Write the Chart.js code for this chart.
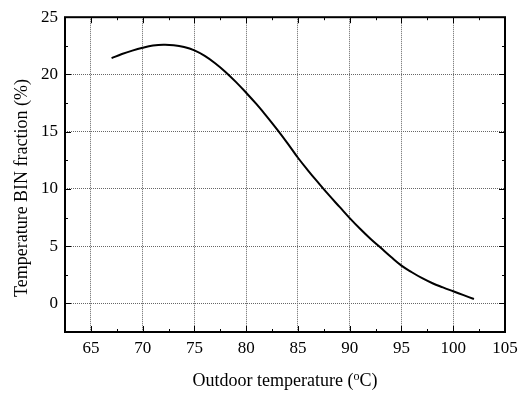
<!DOCTYPE html>
<html>
<head>
<meta charset="utf-8">
<script src="https://cdn.jsdelivr.net/npm/chart.js@4/dist/chart.umd.min.js"></script>
<style>
html, body { margin: 0; padding: 0; background: #fff; }
</style>
</head>
<body>
<canvas id="binChart" width="526" height="393"></canvas>
<script>
// outdoor temperature (C) and BIN fraction (%)
var temps = [67, 68, 69, 70, 71, 72, 73, 74, 75, 76, 77, 78, 79, 80, 81, 82, 83, 84, 85,
             86, 87, 88, 89, 90, 91, 92, 93, 94, 95, 96, 97, 98, 99, 100, 101, 102];
var binFraction = [21.42, 21.78, 22.08, 22.33, 22.52, 22.6, 22.56, 22.4, 22.1, 21.62, 20.98, 20.22, 19.35, 18.4, 17.4, 16.32, 15.18, 13.98, 12.72,
                   11.58, 10.5, 9.45, 8.45, 7.45, 6.52, 5.65, 4.85, 4.05, 3.3, 2.72, 2.2, 1.76, 1.4, 1.06, 0.72, 0.38];

var xTicks = [65, 70, 75, 80, 85, 90, 95, 100, 105];
var xMinor = [62.5, 67.5, 72.5, 77.5, 82.5, 87.5, 92.5, 97.5, 102.5];
var yTicks = [0, 5, 10, 15, 20, 25];
var yMinor = [-2.5, 2.5, 7.5, 12.5, 17.5, 22.5];

var xTitle = ['Outdoor temperature (', 'o', 'C)'];
var yTitle = 'Temperature BIN fraction (%)';

var fontFamily = '"Liberation Serif", "Times New Roman", serif';

var points = [];
for (var i = 0; i < temps.length; i++) {
    points.push({ x: temps[i], y: binFraction[i] });
}

// box frame + inward ticks on all four sides, plus the axis titles
var frameTicks = {
    id: 'frameTicks',
    afterDraw: function (chart) {
        var ctx = chart.ctx;
        var a = chart.chartArea;
        var xs = chart.scales.x, ys = chart.scales.y;
        ctx.save();
        ctx.strokeStyle = '#000';
        ctx.lineWidth = 1;
        ctx.beginPath();
        var tick = function (list, len) {
            list.forEach(function (v) {
                var px = Math.round(xs.getPixelForValue(v)) + 0.5;
                if (px < a.left - 0.5 || px > a.right + 0.5) return;
                ctx.moveTo(px, a.bottom); ctx.lineTo(px, a.bottom - len);
                ctx.moveTo(px, a.top); ctx.lineTo(px, a.top + len);
            });
        };
        var ytick = function (list, len) {
            list.forEach(function (v) {
                var py = Math.round(ys.getPixelForValue(v)) + 0.5;
                if (py < a.top - 0.5 || py > a.bottom + 0.5) return;
                ctx.moveTo(a.left, py); ctx.lineTo(a.left + len, py);
                ctx.moveTo(a.right, py); ctx.lineTo(a.right - len, py);
            });
        };
        tick(xTicks, 6);
        tick(xMinor, 3);
        ytick(yTicks, 6);
        ytick(yMinor, 3);
        ctx.stroke();
        ctx.lineWidth = 2;
        ctx.strokeRect(a.left, a.top, a.right - a.left, a.bottom - a.top);

        // x title with superscript o
        ctx.fillStyle = '#000';
        ctx.textBaseline = 'alphabetic';
        ctx.textAlign = 'left';
        var big = '18px ' + fontFamily, small = '12px ' + fontFamily;
        ctx.font = big;
        var w0 = ctx.measureText(xTitle[0]).width;
        var w2 = ctx.measureText(xTitle[2]).width;
        ctx.font = small;
        var w1 = ctx.measureText(xTitle[1]).width;
        var total = w0 + w1 + w2;
        var x0 = (a.left + a.right) / 2 - total / 2, base = 386;
        ctx.font = big;
        ctx.fillText(xTitle[0], x0, base);
        ctx.font = small;
        ctx.fillText(xTitle[1], x0 + w0, base - 6);
        ctx.font = big;
        ctx.fillText(xTitle[2], x0 + w0 + w1, base);

        // y title, rotated
        ctx.translate(22, 188);
        ctx.rotate(-Math.PI / 2);
        ctx.textAlign = 'center';
        ctx.textBaseline = 'middle';
        ctx.font = '18px ' + fontFamily;
        ctx.fillText(yTitle, 0, 0);
        ctx.restore();
    }
};

var binChart = new Chart(document.getElementById('binChart'), {
    type: 'line',
    data: {
        datasets: [{
            data: points,
            borderColor: '#000',
            borderWidth: 2,
            pointRadius: 0,
            tension: 0.4,
            fill: false
        }]
    },
    options: {
        responsive: false,
        animation: false,
        layout: { padding: { top: 13, right: 21, left: 0, bottom: 0 } },
        plugins: {
            legend: { display: false },
            tooltip: { enabled: false }
        },
        scales: {
            x: {
                type: 'linear',
                min: 62.5,
                max: 105,
                afterBuildTicks: function (scale) {
                    scale.ticks = xTicks.map(function (v) { return { value: v }; });
                },
                afterFit: function (scale) { scale.height = 61; },
                border: { display: false, dash: [1, 1] },
                grid: { drawTicks: false, color: '#666', lineWidth: 1 },
                ticks: { padding: 6, color: '#000', font: { family: fontFamily, size: 17 } }
            },
            y: {
                type: 'linear',
                min: -2.5,
                max: 25,
                afterBuildTicks: function (scale) {
                    scale.ticks = yTicks.map(function (v) { return { value: v }; });
                },
                afterFit: function (scale) { scale.width = 65; },
                border: { display: false, dash: [1, 1] },
                grid: { drawTicks: false, color: '#666', lineWidth: 1 },
                ticks: { padding: 7, color: '#000', font: { family: fontFamily, size: 17 } }
            }
        }
    },
    plugins: [frameTicks]
});
</script>
</body>
</html>
